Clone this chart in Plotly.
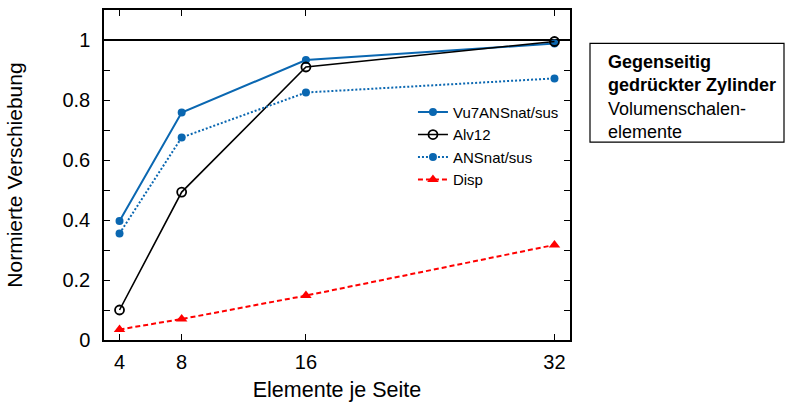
import plotly.graph_objects as go

# Elements per side (mesh refinement)
elements = [4, 8, 16, 32]

# Normalised displacement per element formulation
vu7_ansnat_sus = [0.397, 0.758, 0.933, 0.988]
alv12 = [0.100, 0.493, 0.910, 0.995]
ansnat_sus = [0.355, 0.675, 0.825, 0.872]
disp = [0.035, 0.070, 0.148, 0.317]

y_ticks = [0, 0.2, 0.4, 0.6, 0.8, 1.0]
y_tick_text = ["0", "0.2", "0.4", "0.6", "0.8", "1"]
y_minor = [0.1, 0.3, 0.5, 0.7, 0.9]

BLUE = "#0a67b1"
FONT = "Liberation Sans, Arial, Helvetica, sans-serif"

fig = go.Figure()

fig.add_trace(go.Scatter(
    x=elements, y=vu7_ansnat_sus, name="Vu7ANSnat/sus", mode="lines+markers",
    line=dict(color=BLUE, width=2),
    marker=dict(symbol="circle", size=8, color=BLUE),
))
fig.add_trace(go.Scatter(
    x=elements, y=alv12, name="Alv12", mode="lines+markers",
    line=dict(color="black", width=1.6),
    marker=dict(symbol="circle-open", size=9, color="black", line=dict(width=1.8)),
))
fig.add_trace(go.Scatter(
    x=elements, y=ansnat_sus, name="ANSnat/sus", mode="lines+markers",
    line=dict(color=BLUE, width=2, dash="2px,2px"),
    marker=dict(symbol="circle", size=8, color=BLUE),
))
fig.add_trace(go.Scatter(
    x=elements, y=disp, name="Disp", mode="lines+markers",
    line=dict(color="red", width=2, dash="5px,3px"),
    marker=dict(symbol="triangle-up", size=10, color="red"),
))

# Reference value 1
fig.add_shape(type="line", xref="paper", x0=0, x1=1, yref="y", y0=1, y1=1,
              line=dict(color="black", width=2.2), layer="below")

# Description box on the right
fig.add_shape(type="rect", xref="paper", yref="paper",
              x0=(590 - 104) / 466, x1=(784 - 104) / 466,
              y0=(340 - 141) / 332, y1=(340 - 41.5) / 332,
              line=dict(color="black", width=1.2))
fig.add_annotation(
    xref="paper", yref="paper", x=(606 - 104) / 466, y=(340 - 48) / 332,
    xanchor="left", yanchor="top", align="left", showarrow=False,
    text="<b>Gegenseitig<br>gedrückter Zylinder</b><br>Volumenschalen-<br>elemente",
    font=dict(family=FONT, size=18, color="black"),
)

fig.update_layout(
    width=789, height=408,
    margin=dict(l=104, r=219, t=8, b=68),
    paper_bgcolor="white", plot_bgcolor="white",
    font=dict(family=FONT, size=20, color="black"),
    showlegend=True,
    legend=dict(
        x=0.663, y=0.74, xanchor="left", yanchor="top",
        bgcolor="rgba(0,0,0,0)", font=dict(family=FONT, size=15),
        itemwidth=30,
    ),
    xaxis=dict(
        range=[3, 33], tickvals=elements, ticktext=[str(e) for e in elements],
        ticks="inside", ticklen=6, tickwidth=1.2, tickcolor="black",
        showline=True, linecolor="black", linewidth=1.5, mirror="ticks",
        showgrid=False, zeroline=False, ticklabelstandoff=3,
        title=dict(text="Elemente je Seite", font=dict(size=21.5), standoff=10),
    ),
    yaxis=dict(
        range=[0, 1.1], tickvals=y_ticks, ticktext=y_tick_text,
        ticks="inside", ticklen=6, tickwidth=1.2, tickcolor="black",
        minor=dict(tickvals=y_minor, ticks="inside", ticklen=6, tickwidth=1.2, tickcolor="black"),
        showline=True, linecolor="black", linewidth=1.5, mirror="ticks",
        showgrid=False, zeroline=False, ticklabelstandoff=8,
        title=dict(text="Normierte Verschiebung", font=dict(size=21), standoff=34),
    ),
)

fig.write_html("out.html")
